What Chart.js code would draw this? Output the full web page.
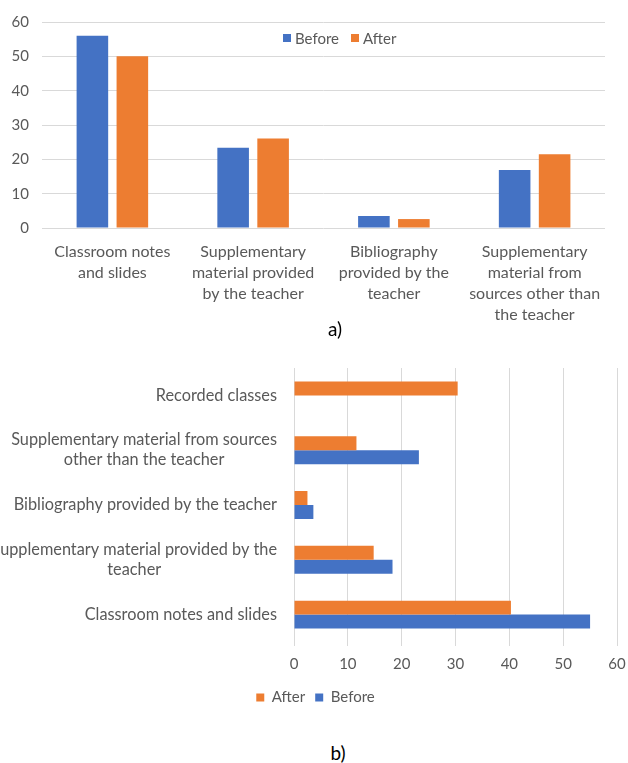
<!DOCTYPE html>
<html>
<head>
<meta charset="utf-8">
<script src="https://cdn.jsdelivr.net/npm/chart.js@4"></script>
<style>
body{margin:0;background:#fff;font-family:Lato,sans-serif}
#wrap{position:relative;width:628px;height:763px;overflow:hidden}
canvas{position:absolute;left:0}
#chartA{top:0}
#chartB{top:350px}
.cap{position:absolute;left:21px;width:628px;text-align:center;font-size:19px;line-height:24px;color:#000}
#legendA{position:absolute;top:29px;left:283px;display:flex;align-items:center;font-size:15px;color:#595959}
#legendA .item{display:flex;align-items:center;margin-right:12px}
#legendA .box{display:inline-block;width:8px;height:8px;margin-right:4px}
</style>
</head>
<body>
<div id="wrap">
  <canvas id="chartA" width="628" height="330"></canvas>
  <div id="legendA"></div>
  <div class="cap" style="top:317px">a)</div>
  <canvas id="chartB" width="628" height="365"></canvas>
  <div class="cap" style="top:741px;left:24px">b)</div>
</div>
<script>
const BLUE = '#4472C4', ORANGE = '#ED7D31', GRAY = '#595959', GRID = '#d9d9d9';

// chart a)
const labelsA = [
  ['Classroom notes', 'and slides'],
  ['Supplementary', 'material provided', 'by the teacher'],
  ['Bibliography', 'provided by the', 'teacher'],
  ['Supplementary', 'material from', 'sources other than', 'the teacher']
];
const beforeA = [56, 23.4, 3.5, 16.9];
const afterA = [50, 26.1, 2.6, 21.5];
const ticksA = [0, 10, 20, 30, 40, 50, 60];

// chart b)
const labelsB = [
  'Recorded classes',
  ['Supplementary material from sources', 'other than the teacher'],
  'Bibliography provided by the teacher',
  ['Supplementary material provided by the', 'teacher'],
  'Classroom notes and slides'
];
const afterB = [30.4, 11.6, 2.5, 14.8, 40.3];
const beforeB = [null, 23.2, 3.6, 18.3, 55.0];
const ticksB = [0, 10, 20, 30, 40, 50, 60];

const chartA = new Chart(document.getElementById('chartA'), {
  type: 'bar',
  data: {
    labels: labelsA,
    datasets: [
      {label: 'Before', data: beforeA, backgroundColor: BLUE},
      {label: 'After', data: afterA, backgroundColor: ORANGE}
    ]
  },
  options: {
    responsive: false, animation: false,
    layout: {padding: {top: 19, right: 23, left: 0, bottom: 0}},
    datasets: {bar: {categoryPercentage: 0.568, barPercentage: 0.79}},
    plugins: {legend: {display: false}, tooltip: {enabled: false}},
    scales: {
      x: {
        grid: {display: false}, border: {display: false},
        ticks: {color: GRAY, font: {family: 'Lato', size: 16, lineHeight: 1.3125}, padding: 5, maxRotation: 0, autoSkip: false},
        afterFit(s){ s.height = 102; }
      },
      y: {
        min: ticksA[0], max: ticksA[ticksA.length-1],
        afterBuildTicks(s){ s.ticks = ticksA.map(v => ({value: v})); },
        grid: {color: GRID, drawTicks: false}, border: {display: false},
        ticks: {color: GRAY, font: {family: 'Lato', size: 15}, padding: 13},
        afterFit(s){ s.width = 42; }
      }
    }
  }
});

// html legend for a), sitting inside the plot like the original
const legendA = document.getElementById('legendA');
chartA.data.datasets.forEach(ds => {
  const it = document.createElement('span'); it.className = 'item';
  const b = document.createElement('span'); b.className = 'box'; b.style.background = ds.backgroundColor;
  it.appendChild(b); it.appendChild(document.createTextNode(ds.label));
  legendA.appendChild(it);
});

// category labels for b): lines centred on each other, block right-aligned
const catLabels = {
  id: 'catLabels',
  afterDraw(chart){
    const {ctx, chartArea} = chart, y = chart.scales.y;
    ctx.save();
    ctx.font = '16.3px Lato'; ctx.fillStyle = GRAY; ctx.textAlign = 'center'; ctx.textBaseline = 'middle';
    chart.data.labels.forEach((lab, i) => {
      const lines = [].concat(lab);
      const w = Math.max(...lines.map(l => ctx.measureText(l).width));
      const cx = chartArea.left - 17 - w/2, cy = y.getPixelForTick(i);
      lines.forEach((l, j) => ctx.fillText(l, cx, cy + (j - (lines.length-1)/2) * 20));
    });
    ctx.restore();
  }
};

new Chart(document.getElementById('chartB'), {
  type: 'bar',
  data: {
    labels: labelsB,
    datasets: [
      {label: 'After', data: afterB, backgroundColor: ORANGE},
      {label: 'Before', data: beforeB, backgroundColor: BLUE}
    ]
  },
  options: {
    indexAxis: 'y', responsive: false, animation: false,
    // left padding only nudges the bottom legend right; the y axis width below makes up for it
    layout: {padding: {top: 18, right: 11, left: 14, bottom: 0}},
    datasets: {bar: {categoryPercentage: 0.51, barPercentage: 1}},
    plugins: {
      legend: {position: 'bottom', labels: {boxWidth: 8, boxHeight: 8, color: GRAY, font: {family: 'Lato', size: 15}, padding: 10}},
      tooltip: {enabled: false}
    },
    scales: {
      x: {
        min: ticksB[0], max: ticksB[ticksB.length-1],
        afterBuildTicks(s){ s.ticks = ticksB.map(v => ({value: v})); },
        grid: {color: GRID, tickLength: 4}, border: {display: false},
        ticks: {color: GRAY, font: {family: 'Lato', size: 15}, padding: 9},
        afterFit(s){ s.height = 38; s.paddingRight = 0; s.paddingLeft = 0; }
      },
      y: {
        grid: {display: false}, border: {display: false},
        ticks: {display: false},
        afterFit(s){ s.width = 280; }
      }
    }
  },
  plugins: [catLabels]
});
</script>
</body>
</html>
